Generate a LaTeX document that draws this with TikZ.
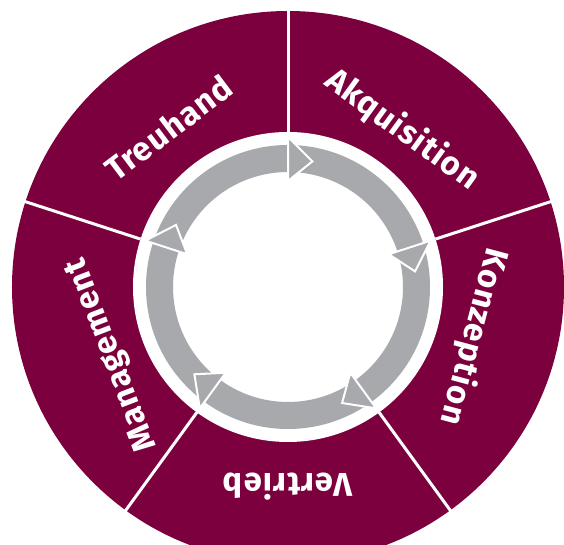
\documentclass[tikz,border=0pt]{standalone}
\usepackage{fontspec}
\setsansfont{Fira Sans}
\usepackage{xcolor}
\usepackage{tikz}

\definecolor{weinrot}{RGB}{125,0,62}
\definecolor{grau}{RGB}{168,169,172}

\tikzset{
  segtext/.style={text=white, inner sep=0pt, font=\sffamily\bfseries\fontsize{33}{33}\selectfont\addfontfeatures{LetterSpace=3}},
  teiler/.style={white, line width=3pt},
  spitze/.style={fill=grau, draw=white, line width=2pt, line join=miter},
}

\begin{document}
\begin{tikzpicture}[x=1pt,y=1pt]
\useasboundingbox (-288,-258) rectangle (276,287);
\clip (-288,-258) rectangle (276,287);

% ring
\fill[weinrot] (0,0) circle (276);
\fill[white] (0,0) circle (155);

% dividers
\draw[teiler] (90:155) -- (90:280);
\draw[teiler] (18:155) -- (18:280);
\draw[teiler] (-54:155) -- (-54:280);
\draw[teiler] (234:155) -- (234:280);
\draw[teiler] (162:155) -- (162:280);

% grey cycle
\fill[grau, even odd rule] (0,0) circle (142) (0,0) circle (115);
\filldraw[spitze] (90:106) -- (90:150) -- (79:128) -- cycle;
\filldraw[spitze] (18:106) -- (18:150) -- (7:128) -- cycle;
\filldraw[spitze] (-54:106) -- (-54:150) -- (-65:128) -- cycle;
\filldraw[spitze] (234:106) -- (234:150) -- (223:128) -- cycle;
\filldraw[spitze] (162:106) -- (162:150) -- (151:128) -- cycle;

\node[segtext, rotate=-36] (akquisition) at (54:194) {Akquisition};
\node[segtext, rotate=-105] (konzeption) at (-15:192) {Konzeption};
\node[segtext, rotate=180] (vertrieb) at (270:200) {Vertrieb};
\node[segtext, rotate=111] (management) at (201:188) {Management};
\node[segtext, rotate=37] (treuhand) at (127:199) {Treuhand};
\end{tikzpicture}
\end{document}
